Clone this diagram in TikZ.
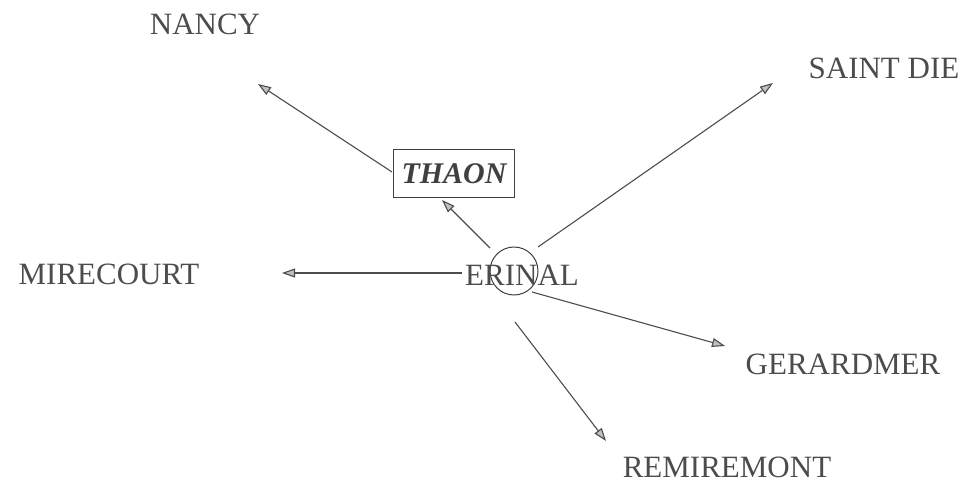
\documentclass[tikz,border=0pt]{standalone}
\usepackage{fontspec}
\setmainfont{Liberation Serif}
\usetikzlibrary{arrows.meta}
\begin{document}
\begin{tikzpicture}[x=1pt,y=-1pt,
  town/.style={inner sep=0pt,text=black!70,font=\fontsize{31}{36}\selectfont},
  link/.style={draw=black!70,line width=1.1pt,-{Triangle[length=13pt,width=9pt,fill=black!25]}},
  hub/.style={draw=black!75,line width=1pt,circle,minimum size=48pt,inner sep=0pt}]
\useasboundingbox (0,0) rectangle (962,486);
\node[town] (nancy) at (205,24) {NANCY};
\node[town] (saintdie) at (884,68) {SAINT DIE};
\node[town] (mirecourt) at (109,274) {MIRECOURT};
\node[town] (gerardmer) at (843,364) {GERARDMER};
\node[town] (remiremont) at (727,467) {REMIREMONT};
\node[draw=black!75,line width=1pt,inner sep=0pt,minimum width=121pt,minimum height=48pt,
  font=\fontsize{30}{36}\selectfont\bfseries\itshape,text=black!75] (thaon) at (454,174) {THAON};
\node[hub] (hub) at (514,271) {};
\node[town] (epinal) at (522,275) {ERINAL};
\coordinate (tn) at (258,84);
\coordinate (tt) at (442,200);
\coordinate (ts) at (773,83);
\coordinate (tm) at (282,273);
\coordinate (tg) at (725,346);
\coordinate (tr) at (606,441);
\coordinate (sn) at (392,172);
\coordinate (st) at (490,248);
\coordinate (ss) at (538,247);
\coordinate (sm) at (462,273);
\coordinate (sg) at (532,292);
\coordinate (sr) at (515,322);
\draw[link] (sn) -- (tn);
\draw[link] (st) -- (tt);
\draw[link] (ss) -- (ts);
\draw[link] (sm) -- (tm);
\draw[link] (sg) -- (tg);
\draw[link] (sr) -- (tr);
\end{tikzpicture}
\end{document}
